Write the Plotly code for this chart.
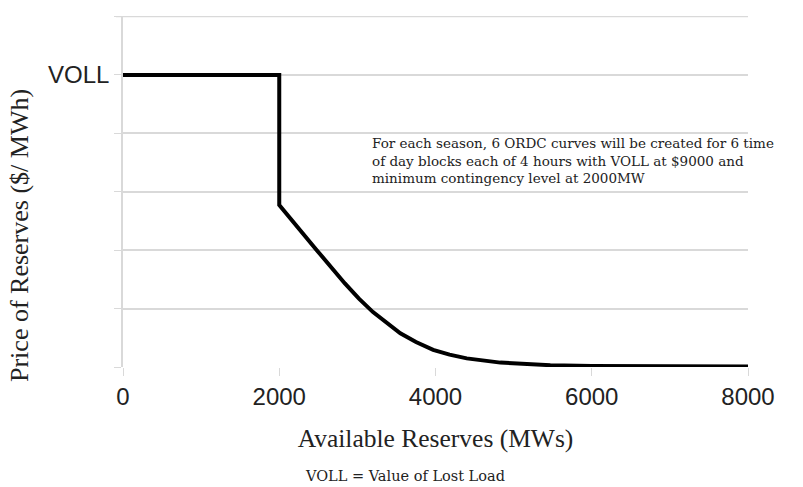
import plotly.graph_objects as go

# ORDC curve (MW, $/MWh)
reserves = [0, 2000, 2000, 2240, 2480, 2840, 3020, 3200, 3380, 3550, 3750, 3970, 4180, 4400, 4830, 5470, 6000, 7000, 8000]
price = [9000, 9000, 4990, 4280, 3600, 2574, 2106, 1692, 1341, 1040, 770, 530, 380, 265, 135, 55, 30, 18, 15]

x_ticks = [0, 2000, 4000, 6000, 8000]
y_grid = [0, 1800, 3600, 5400, 7200, 9000, 10800]
y_labels = ["", "", "", "", "", "VOLL", ""]

note = ("For each season, 6 ORDC curves will be created for 6 time<br>"
        "of day blocks each of 4 hours with VOLL at $9000 and<br>"
        "minimum contingency level at 2000MW")

serif = "Liberation Serif"
sans = "Liberation Sans"
grid = "#d9d9d9"
ink = "#222222"

fig = go.Figure()
fig.add_trace(go.Scatter(x=reserves, y=price, mode="lines",
                         line=dict(color="black", width=4),
                         cliponaxis=False, showlegend=False))

fig.update_xaxes(range=[0, 8000], tickvals=x_ticks, showgrid=False, zeroline=False,
                 showline=False, ticks="outside", ticklen=8, tickcolor=grid,
                 automargin=False,
                 tickfont=dict(family=sans, size=24, color=ink),
                 title=dict(text="Available Reserves (MWs)", standoff=20,
                            font=dict(family=serif, size=25.5, color=ink)))
fig.update_yaxes(range=[0, 10815], tickvals=y_grid, ticktext=y_labels,
                 showgrid=True, gridcolor=grid, gridwidth=1.5, zeroline=False,
                 showline=True, linecolor=grid, linewidth=1.5,
                 ticks="outside", ticklen=7, tickcolor=grid,
                 automargin=False,
                 tickfont=dict(family=sans, size=24, color=ink))

# plotly leaves out the grid line at the top edge, so draw it
fig.add_shape(type="line", xref="paper", yref="y", x0=-7 / 625, x1=1,
              y0=y_grid[-1], y1=y_grid[-1], layer="below",
              line=dict(color=grid, width=1.5))

# y title sits lower than the plot centre in the original, so it is an annotation
fig.add_annotation(x=-(123 - 19) / 625, y=(367 - 236) / 351, xref="paper", yref="paper",
                   text="Price of Reserves ($/ MWh)", textangle=-90, showarrow=False,
                   xanchor="center", yanchor="middle",
                   font=dict(family=serif, size=26, color=ink))

# note and footnote, placed relative to the plot box (123..748 x 16..367 px)
fig.add_annotation(x=(370 - 123) / 625, y=1 - (133 - 16) / 351, xref="paper", yref="paper",
                   text=note, showarrow=False, xanchor="left", yanchor="top", align="left",
                   font=dict(family="DejaVu Serif", size=13.5, color=ink))
fig.add_annotation(x=(405 - 123) / 625, y=-(476 - 367) / 351, xref="paper", yref="paper",
                   yanchor="middle", text="VOLL = Value of Lost Load", showarrow=False,
                   font=dict(family="DejaVu Serif", size=14.5, color=ink))

fig.update_layout(width=803, height=487, margin=dict(l=123, r=55, t=16, b=120),
                  plot_bgcolor="white", paper_bgcolor="white")

fig.write_html("out.html", config={"displayModeBar": False},
               post_script="document.body.style.margin='0';")
